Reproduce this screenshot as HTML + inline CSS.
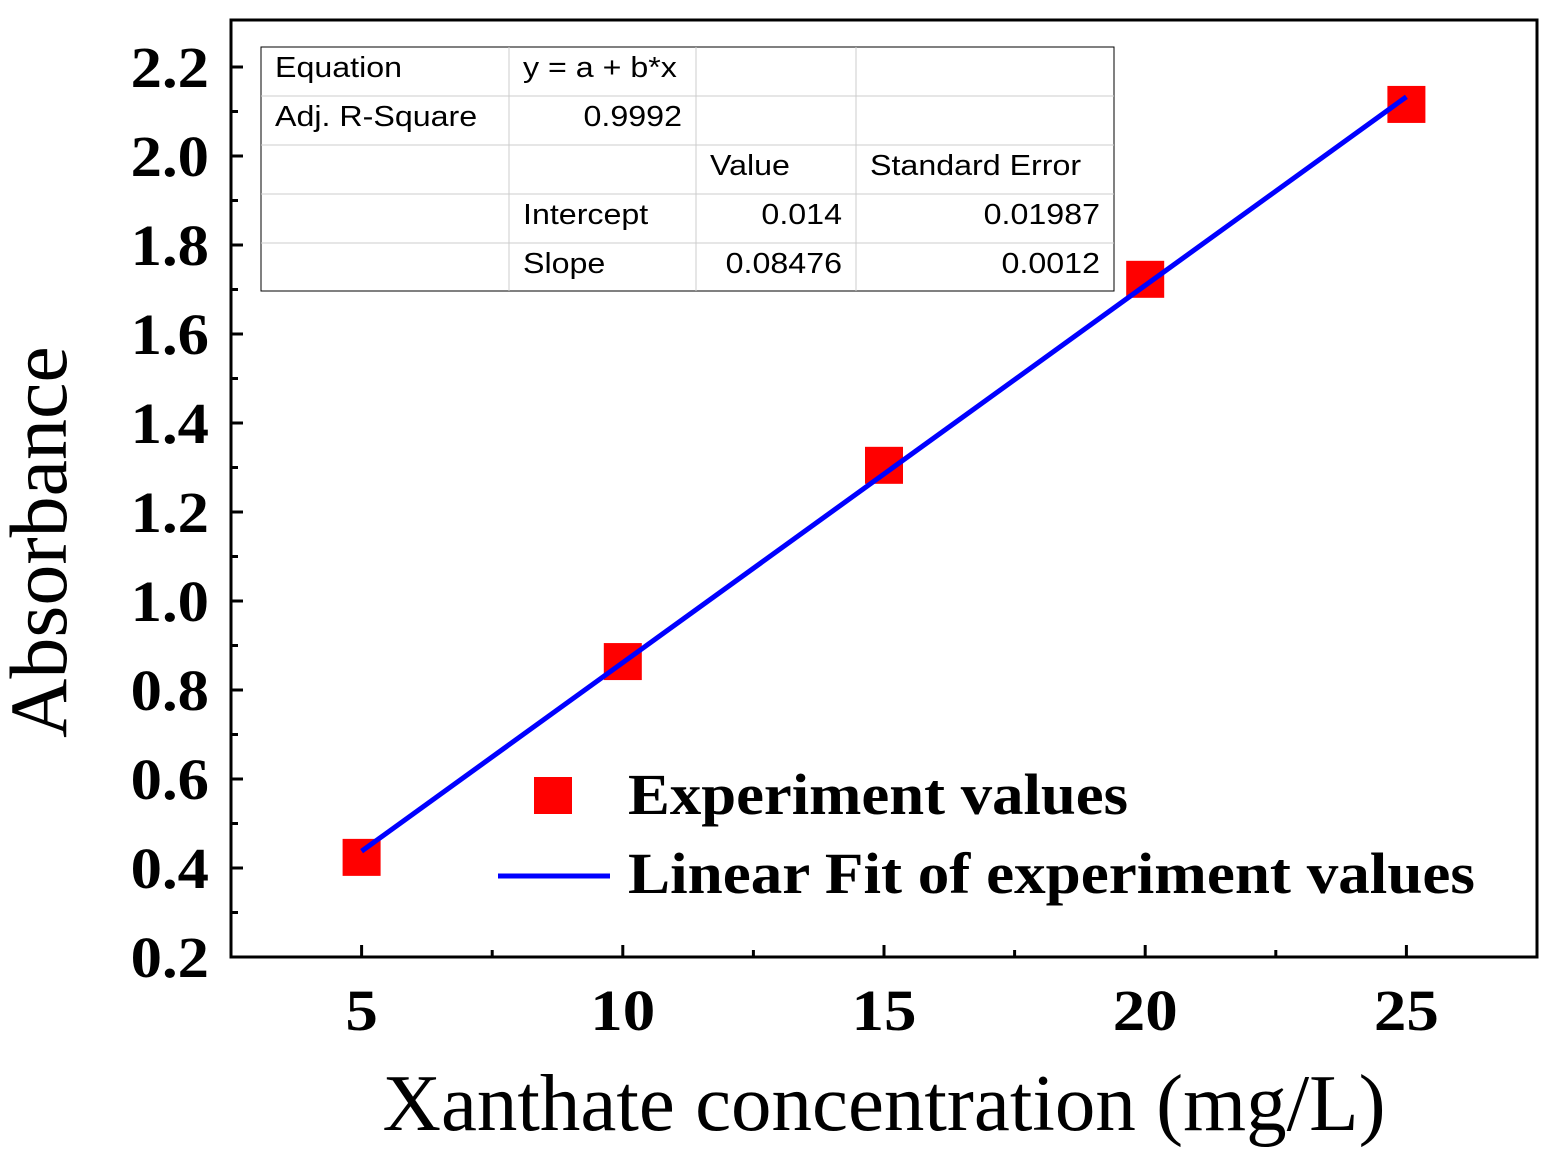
<!DOCTYPE html>
<html><head><meta charset="utf-8"><style>
body{margin:0;background:#fff}
svg{display:block}
</style></head><body>
<svg id="chart" width="1559" height="1162" xmlns="http://www.w3.org/2000/svg" font-family="Liberation Serif, serif">
<g id="axes"></g>
<g id="marks"></g>
<g id="table" font-family="Liberation Sans, sans-serif" font-size="29"></g>
<g id="legend">
  <rect x="534" y="777" width="38" height="37" fill="#ff0000"/>
  <text x="628" y="814" font-size="58" font-weight="bold" textLength="500" lengthAdjust="spacingAndGlyphs">Experiment values</text>
  <line x1="498" y1="876" x2="610" y2="876" stroke="#0000ff" stroke-width="5"/>
  <text x="628" y="893" font-size="58" font-weight="bold" textLength="847" lengthAdjust="spacingAndGlyphs">Linear Fit of experiment values</text>
</g>
<text transform="translate(66,542) rotate(-90)" text-anchor="middle" font-size="82">Absorbance</text>
<text x="884" y="1130" text-anchor="middle" font-size="81">Xanthate concentration (mg/L)</text>
</svg>
<script>
const xValues=[5,10,15,20,25];
const yValues=[0.425,0.865,1.306,1.724,2.117];
const intercept=0.014;
const slope=0.08476;
const xTicks=[5,10,15,20,25];
const yTicks=[0.2,0.4,0.6,0.8,1.0,1.2,1.4,1.6,1.8,2.0,2.2];
const tableRows=[["Equation","y = a + b*x","",""],["Adj. R-Square","0.9992","",""],["","","Value","Standard Error"],["","Intercept","0.014","0.01987"],["","Slope","0.08476","0.0012"]];

const L=231,R=1537,T=20,B=957;
const xMin=2.5,xMax=27.5,yMin=0.2,yMax=2.3056;
const sx=v=>L+(v-xMin)/(xMax-xMin)*(R-L);
const sy=v=>B-(v-yMin)/(yMax-yMin)*(B-T);
const NS="http://www.w3.org/2000/svg";
function mk(tag,attrs,parent,txt){const e=document.createElementNS(NS,tag);for(const k in attrs)e.setAttribute(k,attrs[k]);if(txt!==undefined)e.textContent=txt;parent.appendChild(e);return e;}
function widen(t,f){const w=t.getComputedTextLength();t.setAttribute('textLength',w*f);t.setAttribute('lengthAdjust','spacingAndGlyphs');}
const axes=document.getElementById('axes');
const frame=mk('rect',{x:L,y:T,width:R-L,height:B-T,fill:'none',stroke:'#000','stroke-width':3},axes);


yTicks.forEach((v,i)=>{
  const y=sy(v);
  const t=mk('line',{x1:L,x2:L+12,y1:y,y2:y,stroke:'#000','stroke-width':3},axes);
  
  
  if(i<yTicks.length-1){const ym=sy(v+0.1);const m=mk('line',{x1:L,x2:L+7,y1:ym,y2:ym,stroke:'#000','stroke-width':3},axes);
  
  }
  const lb=mk('text',{x:L-22,y:y+20,'text-anchor':'end','font-size':58,'font-weight':'bold'},axes,v.toFixed(1));
  
  
  widen(lb,1.08);
});
xTicks.forEach((v,i)=>{
  const x=sx(v);
  const t=mk('line',{x1:x,x2:x,y1:B,y2:B-12,stroke:'#000','stroke-width':3},axes);
  
  
  const xm=sx(v+2.5);const m=mk('line',{x1:xm,x2:xm,y1:B,y2:B-7,stroke:'#000','stroke-width':3},axes);
  
  
  const lb=mk('text',{x:x,y:1030,'text-anchor':'middle','font-size':58,'font-weight':'bold'},axes,String(v));
  
  
  widen(lb,1.12);
});
const marks=document.getElementById('marks');
xValues.forEach((v,i)=>{
  const r=mk('rect',{x:sx(v)-19,y:sy(yValues[i])-18,width:38,height:37,fill:'#ff0000'},marks);
  
  
});
const x0=xValues[0],x1=xValues[xValues.length-1];
const fl=mk('line',{x1:sx(x0),y1:sy(intercept+slope*x0),x2:sx(x1),y2:sy(intercept+slope*x1),stroke:'#0000ff','stroke-width':5},marks);


const tb=document.getElementById('table');
const cols=[261,509,696,856,1114],rowY=[47,96,145,194,243,291];
const bg=mk('rect',{x:261,y:47,width:853,height:244,fill:'#fff',stroke:'#000','stroke-width':1},tb);


rowY.slice(1,-1).forEach(y=>{const l=mk('line',{x1:261,x2:1114,y1:y,y2:y,stroke:'#ccc','stroke-width':1},tb);

});
cols.slice(1,-1).forEach(x=>{const l=mk('line',{x1:x,x2:x,y1:47,y2:291,stroke:'#ccc','stroke-width':1},tb);

});
tableRows.forEach((row,r)=>{row.forEach((c,ci)=>{if(!c)return;
  const num=/^[0-9.]+$/.test(c);
  const x=num?cols[ci+1]-14:cols[ci]+14;
  const t=mk('text',{x:x,y:rowY[r]+30,'text-anchor':num?'end':'start'},tb,c);
  
  
  widen(t,1.11);
});});
</script>
</body></html>
